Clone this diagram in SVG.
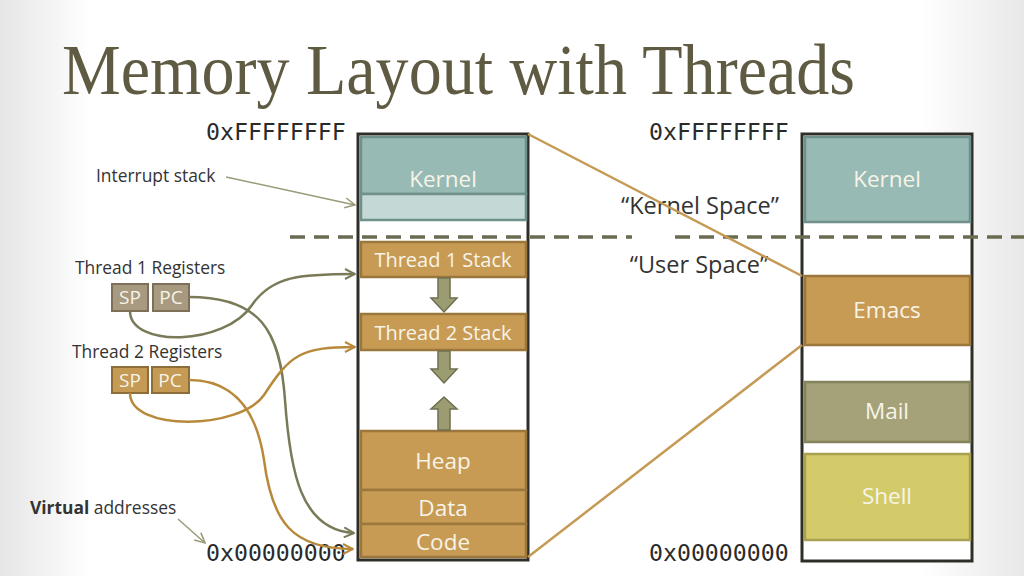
<svg xmlns="http://www.w3.org/2000/svg" width="1024" height="576" viewBox="0 0 1024 576">
<defs>
<linearGradient id="bg" x1="0" y1="0" x2="1" y2="0">
<stop offset="0" stop-color="#e6e6e6"/>
<stop offset="0.09" stop-color="#ffffff"/>
<stop offset="0.9" stop-color="#ffffff"/>
<stop offset="1" stop-color="#e8e8e8"/>
</linearGradient>
<marker id="ag" viewBox="0 0 12 12" refX="11" refY="6" markerWidth="12" markerHeight="12" markerUnits="userSpaceOnUse" orient="auto">
<path d="M1,1 L11,6 L1,11" fill="none" stroke="#7a7a58" stroke-width="2"/>
</marker>
<marker id="ao" viewBox="0 0 12 12" refX="11" refY="6" markerWidth="12" markerHeight="12" markerUnits="userSpaceOnUse" orient="auto">
<path d="M1,1 L11,6 L1,11" fill="none" stroke="#b8893a" stroke-width="2"/>
</marker>
<marker id="al" viewBox="0 0 12 12" refX="11" refY="6" markerWidth="12" markerHeight="12" markerUnits="userSpaceOnUse" orient="auto">
<path d="M1,1 L11,6 L1,11" fill="none" stroke="#9a9a7a" stroke-width="1.5"/>
</marker>
</defs>
<style>
.title{font-family:"Liberation Serif",serif;font-size:72px;fill:#5f5b42}
.hex{font-family:"DejaVu Sans Mono",monospace;font-size:23.2px;fill:#2a2a2a}
.lbl{font-family:"Open Sans","Noto Sans",sans-serif;font-size:17.4px;fill:#333}
.nt{font-family:"Open Sans","Noto Sans",sans-serif;font-size:22.5px;fill:#f7f4e8;text-anchor:middle}
.ntm{font-family:"Open Sans","Noto Sans",sans-serif;font-size:20px;fill:#f7f4e8;text-anchor:middle}
.reg{font-family:"Open Sans","Noto Sans",sans-serif;font-size:19px;fill:#f7f4e8;text-anchor:middle}
.sp{font-family:"Open Sans","Noto Sans",sans-serif;font-size:23.5px;fill:#333;text-anchor:middle}
.frame{fill:#fff;stroke:#2e2e28;stroke-width:3}
.kern{fill:#98bab5;stroke:#6f908b;stroke-width:2.5}
.kern2{fill:#c4d8d5;stroke:#6f908b;stroke-width:2.5}
.gold{fill:#c89b55;stroke:#9c773c;stroke-width:2.5}
.mail{fill:#a5a27a;stroke:#85825e;stroke-width:2.5}
.shell{fill:#d3cb6a;stroke:#aaa150;stroke-width:2.5}
.r1{fill:#a89a80;stroke:#7c7058;stroke-width:2}
.r2{fill:#c49a55;stroke:#8e6e38;stroke-width:2}
.barr{fill:#9c9c72;stroke:#6f6f50;stroke-width:1.5}
.dash{stroke:#6b6b52;stroke-width:3.5;stroke-dasharray:15 9;fill:none}
</style>
<rect x="0" y="0" width="1024" height="576" fill="url(#bg)"/>
<text class="title" x="62" y="94" textLength="793" lengthAdjust="spacingAndGlyphs">Memory Layout with Threads</text>

<text class="hex" x="206" y="140">0xFFFFFFFF</text>
<text class="hex" x="649" y="140">0xFFFFFFFF</text>
<text class="hex" x="206" y="561">0x00000000</text>
<text class="hex" x="649" y="561">0x00000000</text>

<g id="left-memory">
<rect class="frame" x="358" y="134" width="170" height="426"/>
</g>
<g id="right-memory">
<rect class="frame" x="802" y="134" width="170" height="427"/>
</g>

<g id="kernel-left">
<rect class="kern" x="361" y="137" width="165" height="57"/>
<rect class="kern2" x="361" y="194" width="165" height="26"/>
<text class="nt" x="443" y="187">Kernel</text>
</g>
<g id="thread1-stack">
<rect class="gold" x="361" y="242" width="165" height="35"/>
<text class="ntm" x="443" y="267">Thread 1 Stack</text>
</g>
<g id="thread2-stack">
<rect class="gold" x="361" y="314" width="165" height="36"/>
<text class="ntm" x="443" y="340">Thread 2 Stack</text>
</g>
<g id="heap">
<rect class="gold" x="361" y="431" width="165" height="59"/>
<text class="nt" x="443" y="469">Heap</text>
</g>
<g id="data">
<rect class="gold" x="361" y="490" width="165" height="34"/>
<text class="nt" x="443" y="516">Data</text>
</g>
<g id="code">
<rect class="gold" x="361" y="524" width="165" height="33"/>
<text class="nt" x="443" y="550">Code</text>
</g>

<g id="growth-arrows">
<path class="barr" d="M438,278 L450,278 L450,298 L457,298 L444,312 L431,298 L438,298 Z"/>
<path class="barr" d="M438,351 L450,351 L450,369 L457,369 L444,383 L431,369 L438,369 Z"/>
<path class="barr" d="M438,430 L450,430 L450,409 L457,409 L444,397 L431,409 L438,409 Z"/>
</g>

<g id="kernel-right">
<rect class="kern" x="805" y="137" width="165" height="85"/>
<text class="nt" x="887" y="187">Kernel</text>
</g>
<g id="emacs">
<rect class="gold" x="805" y="276" width="165" height="69"/>
<text class="nt" x="887" y="318">Emacs</text>
</g>
<g id="mail">
<rect class="mail" x="805" y="382" width="165" height="60"/>
<text class="nt" x="887" y="419">Mail</text>
</g>
<g id="shell">
<rect class="shell" x="805" y="454" width="165" height="86"/>
<text class="nt" x="887" y="504">Shell</text>
</g>

<g id="space-labels">
<text class="sp" x="700" y="214">“Kernel Space”</text>
<text class="sp" x="699" y="273">“User Space”</text>
</g>

<g id="divider">
<path class="dash" d="M290,237 L632,237"/>
<path class="dash" d="M675,237 L1024,237"/>
</g>

<g id="labels">
<text class="lbl" x="96" y="182">Interrupt stack</text>
<text class="lbl" x="75" y="274">Thread 1 Registers</text>
<text class="lbl" x="72" y="358">Thread 2 Registers</text>
<text class="lbl" x="30" y="514"><tspan font-weight="bold">Virtual</tspan> addresses</text>
</g>

<g id="thread1-registers">
<rect class="r1" x="112" y="284" width="36" height="27"/>
<text class="reg" x="130" y="304">SP</text>
<rect class="r1" x="153" y="284" width="36" height="27"/>
<text class="reg" x="171" y="304">PC</text>
</g>
<g id="thread2-registers">
<rect class="r2" x="112" y="367" width="36" height="26"/>
<text class="reg" x="130" y="387">SP</text>
<rect class="r2" x="152" y="367" width="37" height="26"/>
<text class="reg" x="170" y="387">PC</text>
</g>

<g id="connectors" fill="none">
<path d="M528,134 L802,276" stroke="#c49a55" stroke-width="2.5"/>
<path d="M528,557 L802,345" stroke="#c49a55" stroke-width="2.5"/>
<path d="M226,177 L355,205" stroke="#9a9a7a" stroke-width="1.5" marker-end="url(#al)"/>
<path d="M178,519 L205,543" stroke="#9a9a7a" stroke-width="1.5" marker-end="url(#al)"/>
<path d="M130,311 C130,348 225,346 252,305 C272,276 300,274 355,274" stroke="#7a7a58" stroke-width="2.5" marker-end="url(#ag)"/>
<path d="M189,297 C260,297 280,330 285,400 C290,470 300,530 354,533" stroke="#7a7a58" stroke-width="2.5" marker-end="url(#ag)"/>
<path d="M130,393 C130,432 240,430 264,395 C290,355 300,347 355,347" stroke="#b8893a" stroke-width="2.5" marker-end="url(#ao)"/>
<path d="M189,380 C240,380 258,420 264,460 C272,522 292,549 353,549" stroke="#b8893a" stroke-width="2.5" marker-end="url(#ao)"/>
</g>
</svg>
